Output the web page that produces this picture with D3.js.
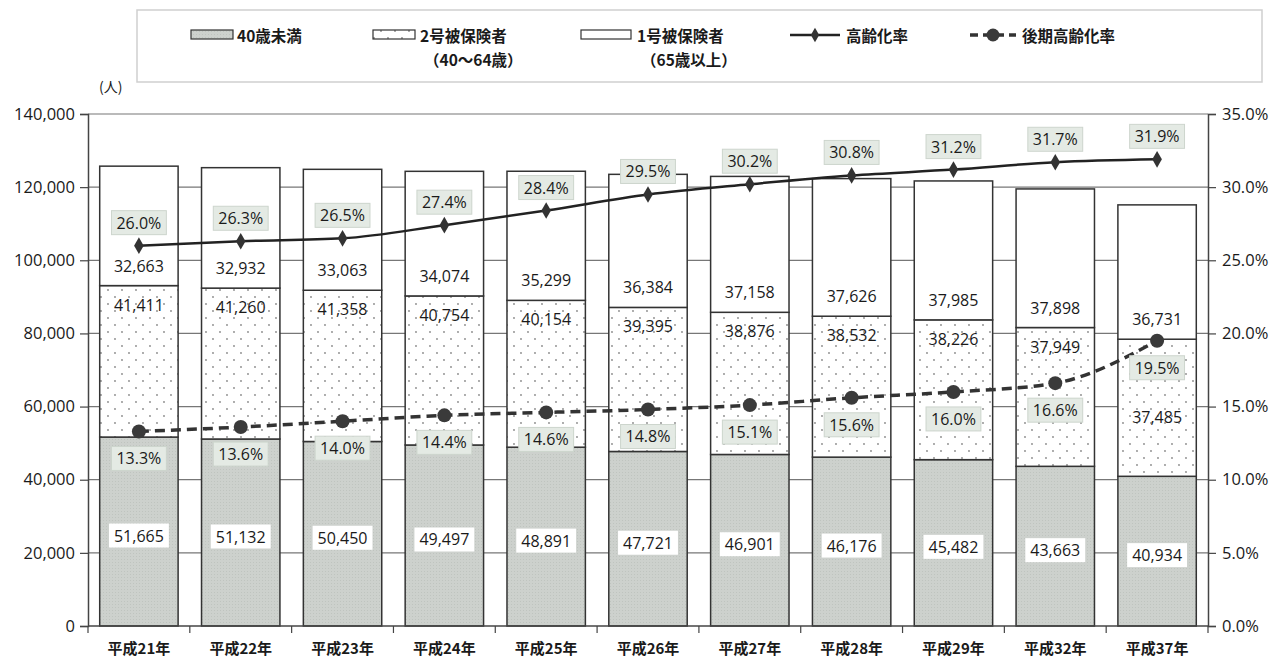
<!DOCTYPE html>
<html><head><meta charset="utf-8">
<script src="https://cdn.jsdelivr.net/npm/d3@7"></script>
<style>
body{margin:0;background:#fff;}
svg{display:block;}
</style></head>
<body>
<svg id="chart" width="1280" height="661"></svg>
<script>
const categories = ["平成21年","平成22年","平成23年","平成24年","平成25年","平成26年","平成27年","平成28年","平成29年","平成32年","平成37年"];
const under40 = [51665,51132,50450,49497,48891,47721,46901,46176,45482,43663,40934];
const insured2 = [41411,41260,41358,40754,40154,39395,38876,38532,38226,37949,37485];
const insured1 = [32663,32932,33063,34074,35299,36384,37158,37626,37985,37898,36731];
const agingRate = [26.0,26.3,26.5,27.4,28.4,29.5,30.2,30.8,31.2,31.7,31.9];
const lateAgingRate = [13.3,13.6,14.0,14.4,14.6,14.8,15.1,15.6,16.0,16.6,19.5];
const leftTicks = [0,20000,40000,60000,80000,100000,120000,140000];
const rightTicks = [0,5,10,15,20,25,30,35];

const svg = d3.select("#chart");
const L = 88, R = 1208, T = 114, B = 626;
const font = "'Open Sans','Noto Sans',sans-serif";
const jfont = "'Noto Sans CJK JP',sans-serif";
const ink = "#1a1a1a";

const x = d3.scaleBand().domain(categories).range([L, R]).paddingInner(0.23).paddingOuter(0.115);
const y = d3.scaleLinear().domain([0,140000]).range([B, T]);
const yR = d3.scaleLinear().domain([0,35]).range([B, T]);

const defs = svg.append("defs");
const p1 = defs.append("pattern").attr("id","pGray").attr("width",3).attr("height",3).attr("patternUnits","userSpaceOnUse");
p1.append("rect").attr("width",3).attr("height",3).attr("fill","#cdd1cd");
p1.append("rect").attr("x",1).attr("y",1).attr("width",1).attr("height",1).attr("fill","#bfc4bf");
const p2 = defs.append("pattern").attr("id","pDots").attr("width",14).attr("height",14).attr("patternUnits","userSpaceOnUse");
p2.append("rect").attr("width",14).attr("height",14).attr("fill","#fff");
p2.append("circle").attr("cx",3).attr("cy",3).attr("r",0.9).attr("fill","#888");
p2.append("circle").attr("cx",10).attr("cy",10).attr("r",0.9).attr("fill","#888");

// gridlines
svg.append("g").selectAll("line").data(leftTicks.slice(1)).join("line")
  .attr("x1",L).attr("x2",R).attr("y1",d=>y(d)).attr("y2",d=>y(d))
  .attr("stroke","#777").attr("stroke-width",1.2);

// axes
const gl = svg.append("g").attr("transform",`translate(${L},0)`)
  .call(d3.axisLeft(y).tickValues(leftTicks).tickFormat(d3.format(",")).tickSize(8).tickPadding(5));
const gr = svg.append("g").attr("transform",`translate(${R},0)`)
  .call(d3.axisRight(yR).tickValues(rightTicks).tickFormat(d=>d.toFixed(1)+"%").tickSize(8).tickPadding(6));
[gl,gr].forEach(g=>{
  g.select(".domain").attr("stroke","#444").attr("stroke-width",1.5);
  g.selectAll(".tick line").attr("stroke","#444").attr("stroke-width",1.2);
  g.selectAll("text").attr("font-family",font).attr("font-size",16.5).attr("fill",ink);
});

// stacked bars
const series = [
  {vals: under40, base: categories.map(()=>0), fill:"url(#pGray)"},
  {vals: insured2, base: under40, fill:"url(#pDots)"},
  {vals: insured1, base: under40.map((d,i)=>d+insured2[i]), fill:"#fff"}
];
series.forEach(s=>{
  svg.append("g").selectAll("rect").data(categories).join("rect")
    .attr("x",d=>x(d)).attr("width",x.bandwidth())
    .attr("y",(d,i)=>y(s.base[i]+s.vals[i]))
    .attr("height",(d,i)=>y(s.base[i])-y(s.base[i]+s.vals[i]))
    .attr("fill",s.fill).attr("stroke","#333").attr("stroke-width",1.5);
});

// x axis
svg.append("line").attr("x1",L).attr("x2",R).attr("y1",B).attr("y2",B).attr("stroke","#444").attr("stroke-width",1.5);
const bounds = d3.range(categories.length+1).map(i=>L + i*x.step());
svg.append("g").selectAll("line").data(bounds).join("line")
  .attr("x1",d=>d).attr("x2",d=>d).attr("y1",B).attr("y2",B+7).attr("stroke","#444").attr("stroke-width",1.2);
svg.append("g").selectAll("text").data(categories).join("text")
  .attr("x",d=>x(d)+x.bandwidth()/2).attr("y",654).attr("text-anchor","middle")
  .attr("font-family",jfont).attr("font-size",15).attr("font-weight",700).attr("fill",ink).text(d=>d);

// value labels
function valLabel(cx, cy, txt, fill, stroke){
  const g = svg.append("g");
  const t = g.append("text").attr("x",cx).attr("y",cy).attr("text-anchor","middle").attr("dominant-baseline","central")
    .attr("font-family",font).attr("font-size",16).attr("fill",ink).text(txt);
  const bb = t.node().getBBox();
  g.insert("rect","text").attr("x",bb.x-5).attr("y",bb.y-1).attr("width",bb.width+10).attr("height",bb.height+2)
    .attr("fill",fill).attr("stroke",stroke).attr("stroke-width",1);
}
const fmt = d3.format(",");
const last = categories.length-1;
categories.forEach((c,i)=>{
  const cx = x(c)+x.bandwidth()/2;
  const top2 = y(under40[i]+insured2[i]);
  valLabel(cx, y(under40[i]/2)+4, fmt(under40[i]), "#fff", "none");
  valLabel(cx, i===last ? top2+78 : top2+19, fmt(insured2[i]), "none", "none");
  valLabel(cx, top2-20, fmt(insured1[i]), "#fff", "none");
});

// lines
const lineGen = d3.line().x((d,i)=>x(categories[i])+x.bandwidth()/2).y(d=>yR(d)).curve(d3.curveMonotoneX);
svg.append("path").attr("d",lineGen(agingRate)).attr("fill","none").attr("stroke","#222").attr("stroke-width",2.5);
svg.append("path").attr("d",lineGen(lateAgingRate)).attr("fill","none").attr("stroke","#333").attr("stroke-width",3.5).attr("stroke-dasharray","10,6");
svg.append("g").selectAll("path").data(agingRate).join("path")
  .attr("transform",(d,i)=>`translate(${x(categories[i])+x.bandwidth()/2},${yR(d)})`)
  .attr("d",d3.symbol(d3.symbolDiamond,80)).attr("fill","#333");
svg.append("g").selectAll("circle").data(lateAgingRate).join("circle")
  .attr("cx",(d,i)=>x(categories[i])+x.bandwidth()/2).attr("cy",d=>yR(d)).attr("r",7).attr("fill","#3a3a3a");

categories.forEach((c,i)=>{
  const cx = x(c)+x.bandwidth()/2;
  valLabel(cx, yR(agingRate[i])-23, agingRate[i].toFixed(1)+"%", "#e4eae4", "#cdd5cd");
  valLabel(cx, yR(lateAgingRate[i])+27, lateAgingRate[i].toFixed(1)+"%", "#e4eae4", "#cdd5cd");
});

// unit
svg.append("text").attr("x",99).attr("y",92).attr("font-family",jfont).attr("font-size",14).attr("fill",ink).text("(人)");

// legend
const lg = svg.append("g");
lg.append("rect").attr("x",137).attr("y",10).attr("width",1125).attr("height",72).attr("fill","#fff").attr("stroke","#cfcfcf").attr("stroke-width",1.5);
const lt = (xx,yy,t)=>lg.append("text").attr("x",xx).attr("y",yy).attr("font-family",jfont).attr("font-size",15.5).attr("font-weight",700).attr("fill",ink).text(t);
lg.append("rect").attr("x",191).attr("y",30).attr("width",42).attr("height",9).attr("fill","url(#pGray)").attr("stroke","#333").attr("stroke-width",1.2);
lt(237,42,"40歳未満");
lg.append("rect").attr("x",373).attr("y",30).attr("width",42).attr("height",9).attr("fill","url(#pDots)").attr("stroke","#333").attr("stroke-width",1.2);
lt(420,42,"2号被保険者");
lt(424,66,"（40～64歳）");
lg.append("rect").attr("x",581).attr("y",30).attr("width",50).attr("height",9).attr("fill","#fff").attr("stroke","#333").attr("stroke-width",1.2);
lt(637,42,"1号被保険者");
lt(641,66,"（65歳以上）");
lg.append("line").attr("x1",790).attr("x2",840).attr("y1",35).attr("y2",35).attr("stroke","#222").attr("stroke-width",2.5);
lg.append("path").attr("transform","translate(815,35)").attr("d",d3.symbol(d3.symbolDiamond,60)).attr("fill","#333");
lt(846,42,"高齢化率");
lg.append("line").attr("x1",970).attr("x2",1016).attr("y1",35).attr("y2",35).attr("stroke","#333").attr("stroke-width",3.5).attr("stroke-dasharray","8,5");
lg.append("circle").attr("cx",993).attr("cy",35).attr("r",6.5).attr("fill","#3a3a3a");
lt(1022,42,"後期高齢化率");
</script>
</body></html>
